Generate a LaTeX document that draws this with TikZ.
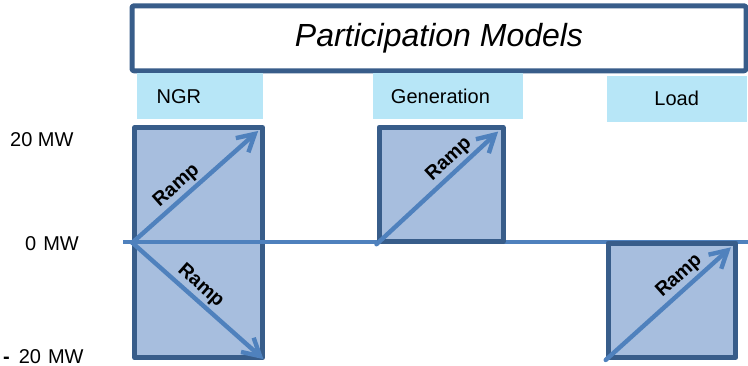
\documentclass[tikz,border=0pt]{standalone}
\usepackage{fontspec}
\setmainfont{Liberation Sans}
\usetikzlibrary{arrows.meta}
\definecolor{boxline}{RGB}{56,93,138}
\definecolor{boxfill}{RGB}{167,190,222}
\definecolor{rampblue}{RGB}{79,129,189}
\definecolor{tagfill}{RGB}{183,230,247}
\begin{document}
\begin{tikzpicture}[x=1pt,y=-1pt,>={Straight Barb[length=17pt,width=19pt]}, line join=round, line cap=round]
	\tikzset{mwbox/.style={draw=boxline,fill=boxfill,line width=5pt,inner sep=0pt},
		tag/.style={fill=tagfill,minimum height=46pt,inner sep=0pt,font=\fontsize{20}{24}\selectfont},
		ramp/.style={->,draw=rampblue,line width=4.4pt},
		ramptext/.style={sloped,above,inner sep=2pt,font=\fontsize{19.5}{21}\selectfont\bfseries},
		mw/.style={anchor=west,inner sep=0pt,font=\fontsize{20}{24}\selectfont}}
	\useasboundingbox (0,0) rectangle (748,365);
	\node[draw=boxline,line width=5pt,fill=white,rounded corners=2pt,minimum width=614pt,minimum height=65pt,font=\fontsize{32}{38}\selectfont\itshape] (title) at (439,38.3) {Participation Models};
	\node[tag,inner xsep=20pt,text width=86.6pt,align=left] (ngrtag) at (200,96.3) {NGR};
	\node[tag,inner xsep=18.3pt,text width=113.7pt,align=left] (gentag) at (447.8,96) {Generation};
	\node[tag,minimum width=140pt] (loadtag) at (676.7,98.8) {Load};
	\node[mw] (pos) at (10,140) {20 MW};
	\node[mw] (zero) at (25,244) {0\hspace{7pt}MW};
	\node[mw] (neg) at (3,357) {{\bfseries -}\hspace{9pt}20\hspace{7pt}MW};
	\node[mwbox,minimum width=127.7pt,minimum height=230.5pt] (ngr) at (198.6,242.7) {};
	\draw[rampblue,line width=4pt,line cap=butt] (123,242.3) coordinate (zl) -- (748,242.3) coordinate (zr);
	\node[mwbox,minimum width=124pt,minimum height=114.5pt] (gen) at (441,184.5) {};
	\node[mwbox,minimum width=127.6pt,minimum height=114.3pt] (load) at (672,300.3) {};
	\draw[ramp,shorten >=9pt] (ngr.west) -- node[ramptext,pos=0.4]{Ramp} (ngr.north east);
	\draw[ramp,shorten >=2pt] (ngr.west) -- node[ramptext,pos=0.45]{Ramp} (ngr.south east);
	\draw[ramp,shorten >=10pt] (gen.south west) -- node[ramptext,pos=0.63]{Ramp} (gen.north east);
	\draw[ramp,shorten >=10pt] (load.south west) -- node[ramptext,pos=0.62]{Ramp} (load.north east);
\end{tikzpicture}
\end{document}
